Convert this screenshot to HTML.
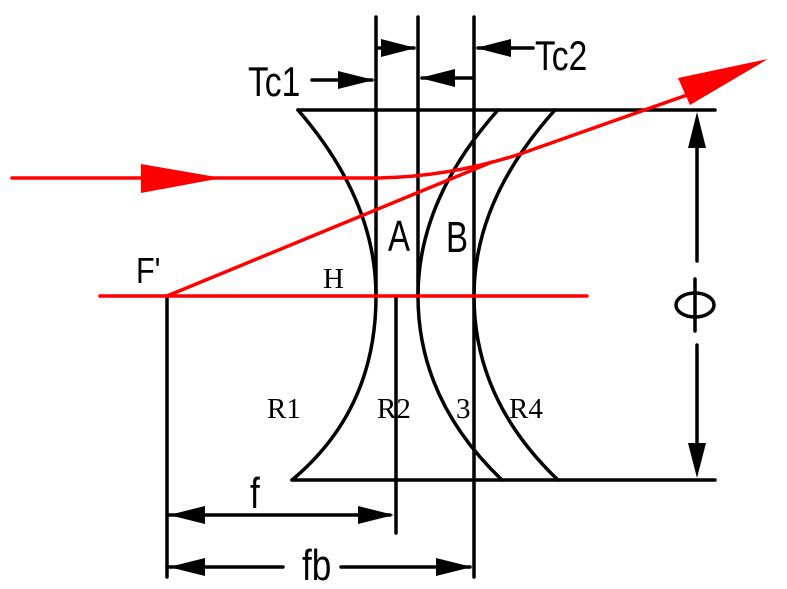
<!DOCTYPE html>
<html><head><style>
body{margin:0;background:#fff}
svg{display:block}
.s{font-family:"Liberation Sans",sans-serif}
.r{font-family:"Liberation Serif",serif}
</style></head><body>
<svg width="787" height="589" viewBox="0 0 787 589" xmlns="http://www.w3.org/2000/svg">
<g stroke="#000" stroke-width="3.5" fill="none" stroke-linecap="round">
<line x1="376" y1="17" x2="376" y2="296"/>
<line x1="418" y1="17" x2="418" y2="296"/>
<line x1="474" y1="17" x2="474" y2="577"/>
<line x1="396" y1="296" x2="396" y2="533"/>
<line x1="167" y1="296" x2="167" y2="577"/>
<line x1="298" y1="110" x2="715" y2="110"/>
<line x1="292" y1="480" x2="715" y2="480"/>
<path d="M298,110 Q376,200 376,296 Q376,410 292,480"/>
<path d="M498,110 Q418,200 418,296 Q418,400 502,480"/>
<path d="M555,110 Q474,200 474,296 Q474,400 558,480"/>
<line x1="697" y1="120" x2="697" y2="261"/>
<line x1="697" y1="345" x2="697" y2="470"/>
<ellipse cx="695" cy="305" rx="19" ry="12"/>
<line x1="695" y1="279" x2="695" y2="331"/>
<line x1="167" y1="515" x2="390" y2="515"/>
<line x1="167" y1="567" x2="283" y2="567"/>
<line x1="341" y1="567" x2="470" y2="567"/>
<line x1="312" y1="80" x2="372" y2="80"/>
<line x1="378" y1="48" x2="414" y2="48"/>
<line x1="422" y1="78" x2="472" y2="78"/>
<line x1="478" y1="48" x2="533" y2="48"/>
</g>
<g fill="#000">
<polygon points="697,112 688,148 706,148"/>
<polygon points="697,478 688,443 706,443"/>
<polygon points="169,515 205,506 205,524"/>
<polygon points="394,515 358,506 358,524"/>
<polygon points="169,567 205,558 205,576"/>
<polygon points="472,567 436,558 436,576"/>
<polygon points="374,80 338,71 338,89"/>
<polygon points="416,48 381,39 381,57"/>
<polygon points="420,78 455,69 455,87"/>
<polygon points="476,48 511,39 511,57"/>
</g>
<g stroke="#f00" stroke-width="3.5" fill="none" stroke-linecap="round">
<line x1="100" y1="296" x2="587" y2="296"/>
<path d="M12,178 L376,178 Q450,177 520,154 L690,94"/>
<line x1="167" y1="296" x2="492" y2="162"/>
</g>
<g fill="#f00">
<polygon points="141,164 141,193 222,178"/>
<polygon points="768,59 678,78 690,105"/>
</g>
<g class="s" fill="#000">
<text x="248" y="96" font-size="42" transform="translate(248,96) scale(0.8,1) translate(-248,-96)">Tc1</text>
<text x="535" y="70" font-size="42" transform="translate(535,70) scale(0.8,1) translate(-535,-70)">Tc2</text>
<text x="136" y="283" font-size="36" transform="translate(136,283) scale(0.85,1) translate(-136,-283)">F'</text>
<text x="388" y="251" font-size="44" transform="translate(388,251) scale(0.75,1) translate(-388,-251)">A</text>
<text x="446" y="252" font-size="44" transform="translate(446,252) scale(0.75,1) translate(-446,-252)">B</text>
<text x="250" y="508" font-size="44" transform="translate(250,508) scale(0.8,1) translate(-250,-508)">f</text>
<text x="302" y="580" font-size="44" transform="translate(302,580) scale(0.8,1) translate(-302,-580)">fb</text>
</g>
<g class="r" fill="#000" font-size="29">
<text x="323" y="288">H</text>
<text x="267" y="418">R1</text>
<text x="377" y="418">R2</text>
<text x="456" y="418">3</text>
<text x="509" y="418">R4</text>
</g>
</svg>
</body></html>
